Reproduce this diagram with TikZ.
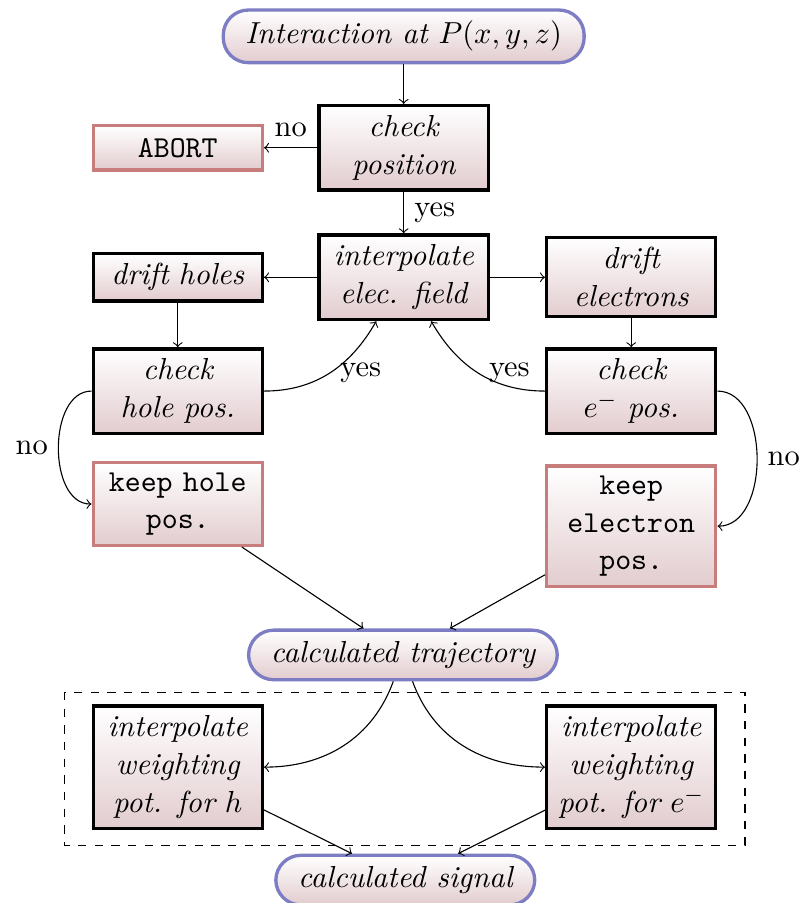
\documentclass[11pt,tikz,border=0pt]{standalone}
\usepackage{amsmath}
\usepackage{amssymb}
\usepackage{tikz}
\usetikzlibrary{shapes.misc,arrows,positioning,calc}
\usepackage{xcolor}

\definecolor{pillblue}{RGB}{125,125,195}
\definecolor{stopred}{RGB}{200,125,125}
\definecolor{boxpink}{RGB}{226,204,207}

\tikzset{
  pill/.style={rectangle, rounded corners=9pt, draw=pillblue, very thick, top color=white, bottom color=boxpink, inner xsep=8pt, inner ysep=4pt, font=\itshape},
  process/.style={rectangle, draw=black, very thick, top color=white, bottom color=boxpink, text width=2cm, align=center, inner xsep=2pt, inner ysep=3.5pt, font=\itshape},
  stopbox/.style={process, draw=stopred, font=\ttfamily, minimum height=16pt},
}

\begin{document}
\begin{tikzpicture}

\useasboundingbox (0,0) rectangle (10.16,-11.43);

% signal part
\draw[dashed] (0.82,-8.76) rectangle (9.43,-10.70);

% nodes
\node[pill] (start) at (5.11,-0.46) {Interaction at $P(x,y,z)$};
\node[process] (checkpos) at (5.11,-1.87) {check\\position};
\node[stopbox] (abort) at (2.25,-1.87) {ABORT};
\node[process] (interp) at (5.11,-3.51) {interpolate\\elec. field};
\node[process] (drifth) at (2.25,-3.51) {drift holes};
\node[process] (drifte) at (7.99,-3.51) {drift\\electrons};
\node[process] (checkh) at (2.25,-4.95) {check\\hole pos.};
\node[process] (checke) at (7.99,-4.95) {check\\$e^-$ pos.};
\node[stopbox] (keeph) at (2.25,-6.38) {keep hole\\pos.};
\node[stopbox] (keepe) at (7.99,-6.66) {keep\\electron\\pos.};
\node[pill] (traj) at (5.10,-8.29) {calculated trajectory};
\node[process] (wph) at (2.25,-9.71) {interpolate\\weighting\\pot. for $h$};
\node[process] (wpe) at (7.99,-9.71) {interpolate\\weighting\\pot. for $e^-$};
\node[pill] (signal) at (5.13,-11.14) {calculated signal};

% connections
\draw[->] (start) -- (checkpos);
\draw[->] (checkpos) -- node[above]{no} (abort);
\draw[->] (checkpos) -- node[right]{yes} (interp);
\draw[->] (interp) -- (drifth);
\draw[->] (interp) -- (drifte);
\draw[->] (drifth) -- (checkh);
\draw[->] (drifte) -- (checke);
\draw[->] (checkh.east) to[out=0,in=-120] node[pos=0.5,right]{yes} (interp.238);
\draw[->] (checke.west) to[out=180,in=-60] node[pos=0.5,right]{yes} (interp.302);
\draw[->] (checkh.west) to[out=180,in=180] node[left]{no} (keeph.west);
\draw[->] (checke.east) to[out=0,in=0] node[right]{no} (keepe.east);
\draw[->] (keeph) -- (traj);
\draw[->] (keepe) -- (traj);
\draw[->] (traj) to[out=-110,in=0] (wph);
\draw[->] (traj) to[out=-70,in=180] (wpe);
\draw[->] (wph) -- (signal);
\draw[->] (wpe) -- (signal);

\end{tikzpicture}
\end{document}
